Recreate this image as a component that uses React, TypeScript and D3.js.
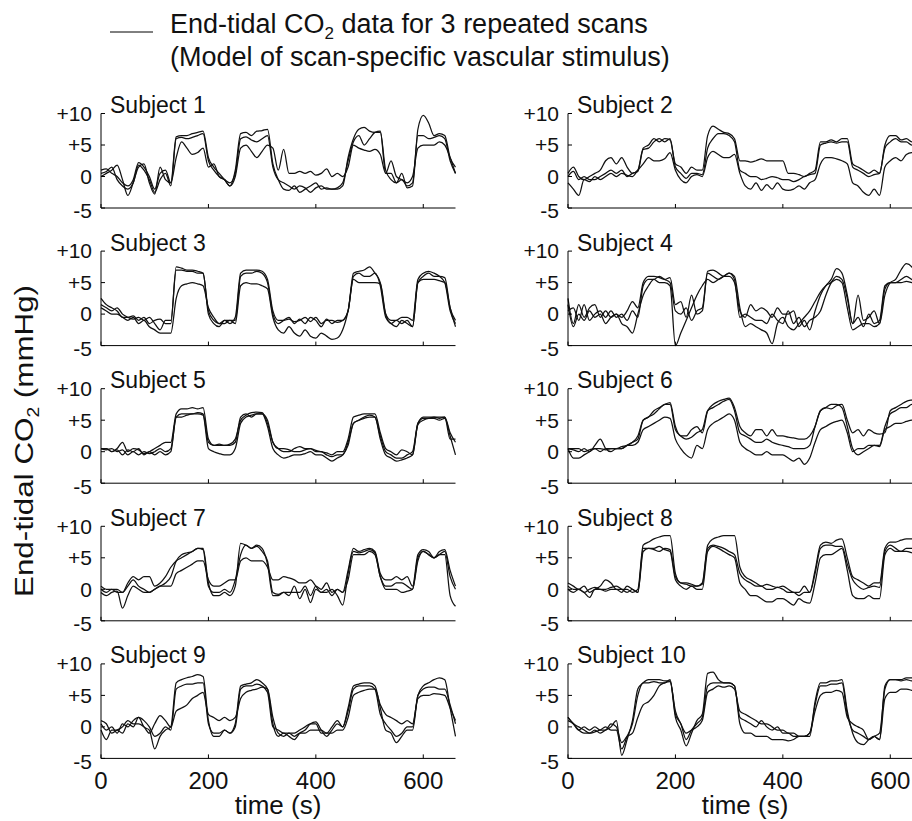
import React from "react";
import * as d3 from "d3";

const TIME = [
  0, 10, 20, 30, 40, 50, 60, 70, 80, 90,
  100, 110, 120, 130, 140, 150, 160, 170, 180, 190,
  200, 210, 220, 230, 240, 250, 260, 270, 280, 290,
  300, 310, 320, 330, 340, 350, 360, 370, 380, 390,
  400, 410, 420, 430, 440, 450, 460, 470, 480, 490,
  500, 510, 520, 530, 540, 550, 560, 570, 580, 590,
  600, 610, 620, 630, 640, 650, 660,
];

const Y_TICKS = [10, 5, 0, -5];
const Y_TICK_LABELS = ["+10", "+5", "0", "-5"];
const X_TICKS = [0, 200, 400, 600];
const SUBJECTS = ["Subject 1", "Subject 2", "Subject 3", "Subject 4", "Subject 5", "Subject 6", "Subject 7", "Subject 8", "Subject 9", "Subject 10"];

const S1 = [
  [1.0, 1.2, 0.5, 0.0, -1.0, -1.5, -0.5, 2.2, 1.5, 0.0,
   -2.0, 0.5, 1.0, -1.0, 6.3, 6.5, 6.5, 6.8, 7.0, 7.2,
   3.0, 1.5, 0.5, -0.5, -1.5, 1.0, 6.8, 7.0, 6.5, 7.2,
   7.3, 7.5, 2.0, -0.5, -2.0, -2.2, -1.5, -2.5, -2.0, -1.5,
   -1.0, -2.0, -1.8, -2.0, -2.0, -1.5, 3.0, 6.0, 7.5, 7.8,
   7.2, 7.0, 7.0, 1.0, -0.5, -1.0, 0.5, -1.8, -1.5, 7.5,
   9.7, 8.5, 6.5, 6.8, 6.5, 3.0, 1.5],
  [0.5, 0.8, 1.5, -0.5, -1.5, -2.0, -1.0, 1.8, 1.0, -0.5,
   -2.5, -0.5, 0.5, -1.5, 6.0, 6.2, 6.0, 6.2, 6.5, 6.8,
   2.5, 1.0, 0.0, -0.5, -1.0, 0.5, 6.0, 6.3, 5.8, 5.5,
   6.0, 6.5, 1.5, -0.5, -1.0, -1.5, -2.0, -1.5, -1.8, -2.5,
   -1.8, -1.5, -2.0, -2.0, -1.8, -1.0, 2.5, 5.5, 6.5, 5.0,
   6.0, 7.0, 7.2, 0.5, 0.5, -1.0, -0.5, -1.5, -1.0, 6.5,
   6.5, 6.0, 6.2, 6.5, 6.0, 2.5, 0.5],
  [0.0, 0.5, 1.0, 1.8, -0.5, -3.0, -1.0, 1.5, 2.0, -1.0,
   -2.8, 1.5, -0.5, -1.0, 3.0, 5.5, 4.5, 3.5, 3.8, 4.5,
   1.5, 2.0, 0.0, -0.5, -1.5, 0.0, 4.5, 5.0, 4.0, 3.0,
   4.0, 5.0, 4.5, 1.0, 4.3, 0.5, 0.5, 0.8, 0.5, 0.8,
   0.2, 0.5, 1.2, 0.0, 0.5, 0.0, 1.5, 5.0, 4.5, 4.2,
   4.0, 4.3, 3.5, 0.5, 2.5, 0.0, -0.5, -1.0, 0.0, 4.5,
   5.0, 5.0, 5.0, 5.5, 5.0, 3.0, 0.5],
];

const S2 = [
  [0.5, 1.5, 0.0, -0.5, 0.0, 0.5, 1.0, 2.5, 3.0, 2.0,
   3.0, 1.5, 0.5, 1.0, 4.5, 5.0, 6.0, 5.5, 6.0, 5.8,
   2.0, 1.5, 0.5, 1.5, 1.0, 1.0, 6.5, 8.0, 7.5, 7.0,
   6.8, 6.0, 2.5, 2.5, 2.3, 2.5, 2.8, 2.5, 2.5, 2.5,
   2.5, 0.5, 0.5, 0.3, 0.0, 0.5, 1.0, 5.5, 5.5, 5.8,
   5.5, 6.0, 6.0, 2.0, 1.5, 1.0, 0.5, 1.0, 0.5, 5.0,
   6.5, 6.5, 5.8, 6.0, 5.5, 5.5, 5.0],
  [0.0, 0.8, -0.5, 0.0, -0.5, -0.5, 0.0, 0.5, 1.0, 0.5,
   1.0, 0.0, 0.5, 0.8, 4.3, 4.5, 5.5, 6.0, 5.5, 6.0,
   1.5, 0.5, -0.3, 0.5, 0.5, 0.3, 4.5, 6.0, 6.8, 6.8,
   6.5, 5.5, 1.0, 0.5, 0.0, 0.0, -0.5, -0.3, 0.0, -0.2,
   -0.5, -0.5, -0.8, -0.5, 0.0, 0.3, 0.5, 5.0, 5.3, 5.5,
   5.3, 5.5, 5.5, 1.5, 1.0, 0.5, 0.0, 0.3, 0.5, 4.5,
   5.5, 6.0, 5.5, 5.5, 5.0, 5.0, 5.0],
  [-1.0, -2.0, -3.0, -0.5, -0.8, 0.0, -0.5, 0.0, 0.5, 0.0,
   0.5, 0.2, 0.0, 1.0, 2.0, 3.0, 2.5, 2.5, 2.8, 3.8,
   1.0, -0.5, -1.0, 0.0, 0.3, 0.0, 3.0, 4.0, 3.5, 3.0,
   3.0, 3.5, 0.5, -1.5, -2.0, -1.0, -2.2, -1.3, -2.0, -1.0,
   -2.0, -2.2, -2.0, -1.5, -2.0, -1.0, -0.5, 2.0, 3.0, 3.0,
   2.8, 2.5, 2.0, -1.0, -1.5, -2.5, -3.0, -2.0, -3.0, 1.5,
   2.5, 3.0, 2.5, 3.5, 3.8, 3.8, 3.5],
];

const S3 = [
  [2.5, 1.5, 1.0, 0.5, -0.5, -0.5, -0.3, -1.0, -0.5, -1.5,
   -1.0, -0.8, -1.5, -1.5, 7.5, 7.3, 7.0, 7.0, 6.8, 6.5,
   0.5, -1.0, -1.5, -1.0, -1.5, -0.5, 6.5, 7.0, 7.0, 7.0,
   6.8, 5.5, 0.5, -1.0, -1.0, -0.8, -1.2, -1.0, -0.5, -1.2,
   -0.5, -1.5, -1.0, -1.0, -1.3, -1.0, 0.5, 6.5, 6.8, 7.0,
   7.5, 6.5, 5.0, 0.0, -1.0, -1.0, -0.5, -0.5, -1.0, 5.5,
   6.5, 6.8, 6.5, 6.0, 5.0, 0.5, -1.5],
  [1.5, 1.0, 0.5, 1.0, 0.0, -0.5, -0.8, -0.5, -1.0, -0.5,
   -1.5, -2.5, -1.0, -1.0, 7.0, 7.0, 6.8, 6.8, 6.5, 6.5,
   0.0, -1.5, -2.0, -1.0, -1.0, -1.0, 6.0, 6.5, 6.5, 6.8,
   6.5, 5.0, 0.0, -1.5, -1.0, -0.5, -1.5, -0.8, -1.5, -0.5,
   -1.0, -2.0, -0.8, -1.5, -1.0, -1.0, 0.5, 6.0, 6.5, 6.0,
   6.0, 6.5, 4.5, -0.5, -1.5, -2.0, -1.0, -1.5, -2.0, 5.0,
   6.0, 6.5, 6.0, 6.0, 5.8, 1.0, -1.0],
  [1.0, 0.5, 0.0, 0.0, -0.5, -1.0, -0.5, -1.5, -1.0, -2.0,
   -2.5, -3.0, -3.0, -3.0, 2.5, 4.5, 4.8, 5.0, 4.8, 4.5,
   1.0, -0.5, -1.5, -1.5, -1.0, -1.5, 4.5, 5.0, 4.8, 4.8,
   4.5, 4.0, -0.5, -2.5, -3.0, -2.0, -3.0, -3.5, -2.5, -3.5,
   -3.8, -3.0, -3.5, -4.0, -3.8, -2.5, 0.5, 5.5, 5.0, 5.0,
   5.0, 5.0, 4.8, 0.0, -1.5, -1.0, -1.5, -1.0, -2.0, 5.0,
   5.5, 5.5, 5.5, 5.3, 5.0, 1.0, -2.0],
];

const S4 = [
  [2.5, -1.5, 1.5, -0.5, 1.0, 1.5, -0.5, 0.5, -0.5, 0.0,
   -0.5, 0.5, 2.0, 1.0, 5.0, 6.0, 6.0, 5.8, 5.5, 5.8,
   1.5, 2.0, -0.5, 3.0, 0.0, 0.5, 6.8, 7.0, 6.5, 6.0,
   6.0, 5.0, 0.5, -0.5, 1.5, 0.5, 1.0, 0.5, -0.5, 1.0,
   0.0, 0.0, 0.5, -2.0, -1.0, -2.5, 0.5, 3.0, 4.5, 5.5,
   7.2, 6.5, 3.0, -1.5, 3.0, -1.0, -0.5, 0.5, -1.5, 3.0,
   5.0, 5.5, 7.0, 8.0, 7.5, 6.0, 4.5],
  [0.5, 1.0, -1.0, 1.5, -1.0, 0.0, 0.5, -0.5, 0.5, -0.5,
   0.0, -1.0, 0.5, -0.5, 4.5, 5.5, 5.5, 6.0, 5.5, 5.0,
   0.5, 0.0, 1.0, -1.0, 0.5, 1.0, 6.5, 6.0, 5.5, 6.0,
   6.5, 5.5, -0.5, 0.0, -0.5, -1.0, -1.0, -1.5, 0.0, -1.0,
   -1.5, 0.5, -1.5, -0.5, -2.0, -1.0, -0.5, 0.5, 3.0, 5.0,
   6.0, 5.5, 2.5, -1.5, -0.5, -2.0, 0.0, -1.5, -1.0, 4.5,
   5.0, 5.0, 5.5, 6.0, 5.5, 5.0, 5.0],
  [1.5, -2.0, 0.0, -1.0, 0.5, -0.5, 0.0, -1.5, -0.5, 0.0,
   -1.5, -2.0, -3.0, 0.0, 3.0, 4.5, 5.5, 5.0, 5.0, 4.5,
   -5.0, -3.0, -1.0, 1.0, 3.0, 4.5, 5.5, 5.0, 5.5, 6.0,
   6.5, 6.0, 1.0, -2.0, -1.5, -2.0, -2.5, -3.0, -4.7, -1.5,
   -0.5, -2.0, -2.5, -1.5, -0.5, 0.5, 2.0, 3.5, 4.5, 5.0,
   5.5, 5.0, 1.0, -2.5, -2.0, -1.5, -1.5, -2.0, -1.5, 4.0,
   5.0, 5.0, 5.0, 5.2, 5.0, 4.8, 4.5],
];

const S5 = [
  [0.5, 0.5, 0.0, 0.5, 1.5, 0.0, 0.5, 0.3, -0.3, 0.0,
   0.5, 1.0, 1.5, 1.5, 6.0, 6.8, 6.8, 7.0, 6.8, 7.0,
   2.0, 1.0, 1.0, 1.0, 1.2, 2.0, 5.0, 5.8, 6.2, 6.3,
   6.2, 4.5, 1.5, 0.5, 0.0, 0.0, 0.5, 0.8, 0.5, 0.5,
   0.2, 0.0, -0.2, -0.5, 0.0, 0.0, 2.0, 5.5, 5.8, 6.0,
   6.0, 6.0, 3.0, 0.5, 0.0, -0.5, 0.3, 0.0, -0.5, 4.5,
   5.5, 5.5, 5.5, 5.5, 5.5, 3.0, 1.5],
  [0.5, 0.3, 0.5, 0.0, 0.3, -0.5, 0.0, -0.5, 0.0, -0.3,
   0.0, 0.5, 0.0, 0.5, 5.5, 6.0, 6.0, 6.0, 6.2, 6.0,
   1.5, 1.0, 1.2, 1.0, 1.0, 1.5, 5.5, 6.0, 5.5, 6.0,
   6.0, 5.0, 1.5, 0.5, 0.5, 0.3, 0.0, 0.0, 0.3, 0.5,
   0.0, 0.0, -0.5, -0.8, -0.5, -0.5, 1.5, 4.5, 5.0, 5.5,
   5.8, 5.5, 2.5, 0.0, -0.5, -1.0, -1.0, -0.5, 0.0, 4.5,
   5.3, 5.3, 5.5, 5.3, 5.5, 2.0, 2.0],
  [0.5, 0.5, 0.0, 0.3, -0.5, 0.3, 0.0, 0.5, -0.5, 0.0,
   -0.5, 0.0, -0.5, 0.0, 5.5, 5.5, 5.8, 6.0, 6.0, 5.8,
   0.5, 0.0, -0.3, -0.5, -0.5, 0.5, 4.5, 5.5, 5.8, 6.0,
   6.0, 4.0, 0.5, -0.5, -1.0, -0.8, -0.5, -0.5, -0.3, 0.0,
   -0.5, -0.5, -1.0, -1.5, -1.0, -0.5, 1.0, 4.5, 5.0, 5.3,
   5.5, 5.5, 2.0, -0.5, -1.0, -1.5, -1.3, -1.0, -0.5, 4.3,
   5.0, 5.3, 5.3, 5.0, 5.3, 2.5, -0.5],
];

const S6 = [
  [0.5, 0.3, 0.0, 0.5, 0.0, 1.0, 2.0, 0.5, 0.0, 0.5,
   0.5, 1.0, 1.5, 2.0, 5.0, 5.5, 6.5, 7.0, 7.5, 7.8,
   4.0, 2.5, 2.5, 3.5, 4.0, 3.0, 6.5, 7.5, 8.0, 8.3,
   8.5, 7.0, 4.0, 3.0, 2.5, 3.5, 3.5, 2.5, 3.5, 2.5,
   2.5, 2.3, 2.2, 2.0, 2.0, 2.5, 4.0, 6.5, 7.0, 6.8,
   7.3, 7.5, 5.0, 3.0, 3.5, 2.5, 3.5, 3.0, 2.8, 3.0,
   6.5, 7.0, 7.5, 8.0, 8.2, 8.3, 8.0],
  [0.5, 0.5, 0.5, 0.0, 0.3, 0.5, 0.5, 0.3, 0.5, 0.5,
   0.8, 1.0, 1.5, 2.5, 5.0, 5.5, 6.0, 6.8, 7.5, 7.5,
   3.5, 2.5, 2.0, 2.3, 3.0, 3.5, 6.5, 7.0, 7.5, 8.0,
   8.3, 6.5, 3.0, 2.5, 2.0, 1.5, 1.5, 2.0, 1.5, 1.2,
   1.0, 0.8, 0.5, 0.5, 0.5, 1.0, 4.0, 6.5, 7.0, 7.5,
   7.5, 7.0, 4.0, 0.5, -0.5, 0.0, 0.5, 1.0, 1.0, 4.0,
   6.0, 6.5, 7.0, 7.0, 7.5, 7.5, 7.5],
  [0.5, -1.0, -1.0, -0.5, 0.0, 0.5, 0.0, 0.5, 0.5, 0.5,
   0.5, 1.0, 1.0, 1.5, 3.5, 4.0, 4.5, 5.0, 5.5, 5.3,
   2.0, 0.5, -0.5, -1.0, 1.0, 0.5, 3.5, 4.5, 5.0, 5.5,
   6.0, 5.0, 1.5, 0.5, 0.0, -0.5, -0.5, 0.0, -0.5, -0.5,
   -0.5, -1.0, -1.5, -1.0, -2.0, -1.0, 1.5, 3.5, 4.0, 4.5,
   4.8, 5.0, 3.0, 0.0, 0.5, 0.5, 1.0, 1.0, 0.8, 3.5,
   4.0, 4.5, 4.5, 4.8, 5.0, 5.0, 4.8],
];

const S7 = [
  [0.0, -0.5, 0.0, 0.0, -0.5, 1.0, 2.0, 1.5, 2.0, 2.0,
   0.5, 1.0, 2.0, 3.5, 4.5, 5.0, 5.5, 6.0, 6.5, 6.5,
   1.0, -1.0, -1.0, -0.5, -1.0, 0.5, 7.3, 7.0, 6.5, 7.0,
   6.5, 4.0, -1.0, -1.0, -0.5, -0.5, -0.5, -0.5, 0.5, -1.0,
   0.5, 0.0, 1.0, -0.5, 0.0, -0.5, 3.0, 6.5, 6.0, 6.3,
   6.5, 6.0, 2.5, 1.5, 1.5, 2.0, 1.5, 2.0, 0.5, 5.5,
   6.3, 6.0, 5.0, 6.0, 6.3, 3.0, 0.5],
  [0.5, 0.0, 0.0, -0.5, -0.5, 0.5, 1.5, 0.5, 0.0, -0.5,
   0.0, 0.5, 1.0, 2.0, 4.5, 5.5, 5.8, 6.0, 6.5, 6.3,
   0.5, -0.5, -0.5, 0.0, -0.5, 1.5, 5.5, 7.0, 6.5, 6.8,
   6.0, 4.5, -0.5, -0.8, -0.5, -1.0, 0.5, -1.5, 0.0, -2.1,
   0.0, -0.5, -0.5, 0.0, -1.0, -2.5, 2.5, 6.0, 5.8, 6.0,
   6.3, 5.8, 2.0, 0.5, 0.5, 1.0, 1.0, 0.5, 0.0, 5.0,
   6.0, 5.5, 5.0, 5.5, 6.0, 2.0, 0.0],
  [-0.5, -1.0, -0.5, -0.3, -3.0, -1.0, 0.5, 0.0, -0.5, -0.5,
   0.0, 0.5, 0.5, 0.5, 2.5, 3.0, 3.5, 4.0, 4.5, 4.5,
   1.5, 0.5, 0.5, 1.0, 1.5, 1.5, 4.5, 5.0, 4.5, 4.5,
   4.5, 3.5, 1.5, 1.5, 2.0, 1.8, 1.5, 1.0, 1.0, 1.5,
   0.5, -0.5, 0.0, -1.0, 0.0, -0.5, 1.5, 5.5, 5.5, 5.5,
   6.0, 5.5, 2.0, 0.0, 0.0, 0.0, -0.5, -0.3, 0.0, 4.5,
   6.0, 5.5, 5.0, 5.5, 5.5, -1.0, -2.7],
];

const S8 = [
  [1.0, 0.5, 0.0, 0.5, -0.5, 0.0, 0.5, 1.5, 1.0, 0.0,
   0.0, 0.0, -0.5, 0.0, 7.0, 7.5, 8.0, 8.3, 8.5, 8.5,
   2.5, 1.0, 1.0, 0.8, 0.5, 1.0, 7.0, 8.0, 8.3, 8.5,
   8.5, 8.5, 3.5, 2.0, 1.5, 1.0, 0.5, 0.8, 0.5, 0.3,
   0.5, 0.0, -0.5, -0.5, 0.5, -0.5, 3.0, 7.0, 7.5, 7.3,
   7.8, 8.0, 5.0, 2.0, 1.5, 1.0, 0.5, 1.0, 1.0, 6.5,
   7.5, 7.5, 7.8, 8.0, 8.0, 8.2, 8.3],
  [0.5, 0.0, 0.0, -0.5, 0.0, 0.3, 0.0, 0.0, 0.3, 0.5,
   0.0, -0.5, 0.0, -0.5, 6.5, 6.5, 6.3, 6.0, 6.5, 6.3,
   2.0, 1.0, 0.8, 0.5, 0.5, 0.8, 6.5, 7.0, 6.8, 6.5,
   6.0, 5.5, 2.5, 1.5, 1.0, 0.5, 0.5, 0.0, 0.0, 0.3,
   0.0, -0.5, -0.5, -1.0, -0.5, -0.5, 2.5, 6.5, 7.0, 7.0,
   6.8, 6.8, 4.0, 1.5, 0.5, 0.0, 0.3, 0.5, 0.3, 6.0,
   7.0, 6.5, 6.0, 6.0, 5.8, 5.5, 5.5],
  [0.0, -0.5, 0.0, -0.5, -1.3, 0.0, 0.0, -0.3, 0.0, 0.0,
   -0.5, 0.5, 0.0, -0.5, 6.0, 6.5, 6.5, 6.8, 6.3, 6.0,
   1.5, 0.5, 0.0, 0.5, 0.0, 0.0, 6.0, 6.8, 6.5, 6.0,
   5.5, 5.0, 1.0, 0.0, -1.0, -1.0, -1.5, -2.0, -2.0, -1.5,
   -1.5, -2.0, -2.5, -1.5, -2.0, -2.2, 1.0, 5.0, 5.5, 5.5,
   6.0, 6.5, 3.0, -1.0, -1.5, -1.5, -1.0, -1.5, -1.5, 5.5,
   6.5, 6.0, 6.0, 6.5, 6.5, 6.5, 6.5],
];

const S9 = [
  [0.5, -0.5, 0.0, -1.0, 0.5, 0.0, 1.0, 1.5, 0.0, -0.5,
   -3.5, -1.5, -0.5, 0.0, 7.0, 7.5, 7.8, 8.0, 8.3, 8.0,
   1.0, -1.5, -1.5, -0.5, -1.0, 0.5, 6.5, 6.8, 7.0, 7.5,
   7.0, 6.0, 0.5, -1.5, -1.0, -1.5, -2.0, -1.0, -0.5, 0.5,
   0.8, -0.5, -1.5, -0.5, 0.5, 0.0, 3.0, 6.5, 6.8, 7.0,
   7.0, 6.5, 3.0, -0.5, -1.0, -2.5, -1.5, -0.5, -0.5, 5.0,
   6.5, 7.0, 7.5, 7.8, 7.5, 3.0, -1.5],
  [-0.5, -2.0, -0.5, -0.5, -1.0, 0.5, 0.0, 1.5, 1.0, 0.0,
   -1.5, -1.0, 0.0, -0.5, 6.0, 6.5, 6.8, 6.8, 7.0, 7.0,
   0.5, -1.0, -1.0, -0.5, -1.0, 0.0, 6.0, 6.5, 6.5, 6.8,
   6.5, 5.5, 0.0, -0.5, -1.0, -1.0, -1.0, -0.5, 0.0, 0.5,
   0.5, -1.0, -1.0, 0.0, 1.0, 0.0, 2.5, 6.0, 6.5, 6.5,
   6.5, 6.0, 2.0, 0.5, -0.5, -1.5, -1.0, 0.0, 0.0, 5.0,
   6.0, 6.3, 6.3, 6.0, 6.0, 3.5, 0.5],
  [1.0, 0.5, -1.0, -0.5, 0.0, 1.0, 0.5, 0.5, 0.0, -1.0,
   0.5, 1.8, 1.0, 0.0, 2.5, 3.0, 3.5, 4.5, 5.0, 5.5,
   2.0, 1.5, 1.0, 1.5, 1.0, 1.5, 4.5, 5.5, 5.8, 6.0,
   6.3, 6.0, 1.5, -1.0, -1.5, -1.0, -1.5, -1.0, -1.0, -0.5,
   -0.5, -0.5, -1.0, -1.0, -0.5, -0.5, 1.5, 5.0, 5.5, 5.8,
   6.0, 6.0, 3.5, 2.0, 1.5, 1.0, 0.5, 1.0, 0.5, 4.5,
   5.0, 5.0, 5.3, 5.2, 5.0, 3.0, 1.0],
];

const S10 = [
  [1.0, 0.5, -0.5, -1.0, -1.0, -0.5, -1.0, -0.5, 0.0, 1.0,
   -4.5, -2.0, 1.0, 6.0, 7.0, 7.5, 7.5, 7.5, 7.3, 7.3,
   1.5, -0.5, -3.0, -1.0, 1.0, 2.0, 8.5, 8.7, 7.5, 7.0,
   7.0, 6.5, 0.5, -1.0, -1.0, -1.5, -1.5, -1.5, -2.0, -2.0,
   -2.0, -2.2, -2.0, -1.5, -1.5, -1.5, 4.0, 7.0, 7.0, 7.3,
   7.3, 7.5, 2.5, -1.0, -2.5, -2.8, -2.0, -1.5, -2.0, 6.5,
   7.5, 7.5, 7.5, 7.8, 7.8, 7.5, 7.5],
  [1.5, 0.5, 0.0, -0.5, -1.0, -0.8, -0.5, 0.0, -0.5, -0.5,
   -3.5, -1.5, 0.5, 5.0, 7.0, 7.0, 7.2, 7.0, 7.0, 7.5,
   2.0, 0.5, -2.0, -0.5, 0.5, 1.5, 6.5, 7.0, 7.0, 7.0,
   7.0, 6.5, 1.5, 1.0, 0.5, 0.0, 1.0, 0.0, -0.5, 0.0,
   -1.0, -1.0, -1.5, -1.5, -1.5, -1.0, 3.5, 6.5, 6.5, 6.8,
   6.8, 7.0, 2.0, -0.5, -1.0, -1.5, -2.0, -1.5, -1.0, 6.0,
   7.5, 7.5, 7.3, 7.5, 7.3, 7.5, 7.5],
  [1.5, 0.5, -0.5, 0.0, -0.5, 0.0, -0.5, -0.5, 0.5, 0.0,
   -2.5, -1.5, -1.0, 1.5, 3.5, 4.0, 5.0, 6.5, 7.0, 7.2,
   2.5, 0.5, -1.0, -0.5, 0.0, 1.0, 5.5, 6.0, 6.5, 6.3,
   6.5, 6.0, 2.5, 2.0, 1.5, 1.0, 0.5, 0.5, 0.0, -0.5,
   -0.5, -1.0, -1.0, -1.5, -1.5, -1.0, 2.5, 5.0, 5.5, 5.5,
   5.8, 5.5, 1.5, 0.5, 0.0, -0.5, -2.0, -1.5, -2.0, 4.5,
   5.5, 5.5, 6.0, 6.0, 5.8, 5.5, 5.5],
];

const PANELS = [S1, S2, S3, S4, S5, S6, S7, S8, S9, S10];

const FONT = "'Liberation Sans', Arial, Helvetica, sans-serif";
const COL_X = [101, 568];
const TOP0 = 113.5;
const ROW_STEP = 137.6;
const PW = 354.5;
const PH = 94.5;

export default function App() {
  const x = d3.scaleLinear().domain([0, 660]).range([0, PW]);
  const y = d3.scaleLinear().domain([-5, 10]).range([PH, 0]);
  const line = d3
    .line<number>()
    .x((_, j) => x(TIME[j]))
    .y((d) => y(d))
    .curve(d3.curveMonotoneX);

  return (
    <svg
      width={912}
      height={821}
      style={{ position: "absolute", left: 0, top: 0, background: "#fff" }}
      fontFamily={FONT}
    >
      <rect x={0} y={0} width={912} height={821} fill="#fff" />
      {/* legend */}
      <line x1={110} x2={153} y1={32} y2={32} stroke="#000" strokeWidth={1} />
      <text x={170} y={33} fontSize={27} fill="#111">
        End-tidal CO
        <tspan fontSize={17} dy={6}>2</tspan>
        <tspan dy={-6}> data for 3 repeated scans</tspan>
      </text>
      <text x={170} y={66} fontSize={27} fill="#111">
        (Model of scan-specific vascular stimulus)
      </text>

      {/* y-axis label */}
      <text
        transform="translate(33,441) rotate(-90)"
        textAnchor="middle"
        fontSize={26}
        fill="#111"
        textLength={312}
        lengthAdjust="spacingAndGlyphs"
      >
        End-tidal CO
        <tspan fontSize={16} dy={6}>2</tspan>
        <tspan dy={-6}> (mmHg)</tspan>
      </text>

      {PANELS.map((series, i) => {
        const col = i % 2;
        const row = Math.floor(i / 2);
        const tx = COL_X[col];
        const ty = TOP0 + row * ROW_STEP;
        return (
          <g key={i} transform={`translate(${tx},${ty})`}>
            {series.map((s, k) => (
              <path key={k} d={line(s) || ""} fill="none" stroke="#111" strokeWidth={1.25} strokeLinejoin="round" />
            ))}
            {/* y axis */}
            <line x1={0} x2={0} y1={0} y2={PH} stroke="#000" strokeWidth={1} />
            {Y_TICKS.map((t, k) => (
              <g key={k}>
                <line x1={0} x2={4} y1={y(t)} y2={y(t)} stroke="#000" strokeWidth={1} />
                <text x={-9} y={y(t) + (t === -5 ? 3 : 0)} dy="0.35em" textAnchor="end" fontSize={21} fill="#111">
                  {Y_TICK_LABELS[k]}
                </text>
              </g>
            ))}
            {/* x axis */}
            <line x1={0} x2={PW} y1={PH} y2={PH} stroke="#000" strokeWidth={1} />
            {X_TICKS.map((t) => (
              <line key={t} x1={x(t)} x2={x(t)} y1={PH} y2={PH - 4} stroke="#000" strokeWidth={1} />
            ))}
            <text x={9} y={-0.5} fontSize={23} fill="#111">
              {SUBJECTS[i]}
            </text>
            {row === 4 && (
              <g>
                {X_TICKS.map((t) => (
                  <text key={t} x={x(t)} y={125} textAnchor="middle" fontSize={24} fill="#111">
                    {t}
                  </text>
                ))}
                <text x={177} y={150.5} textAnchor="middle" fontSize={26} fill="#111">
                  time (s)
                </text>
              </g>
            )}
          </g>
        );
      })}
    </svg>
  );
}
